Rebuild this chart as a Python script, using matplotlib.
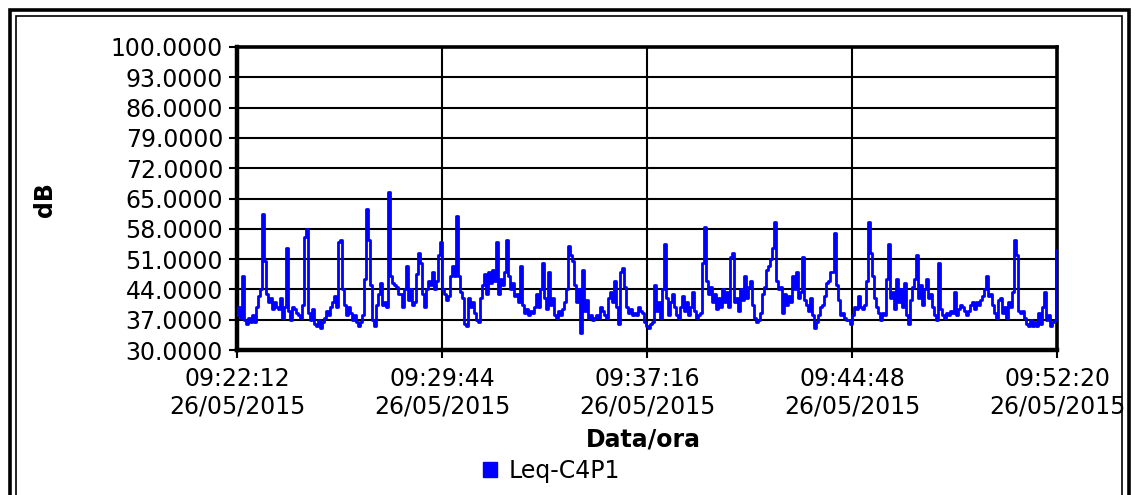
import matplotlib
matplotlib.use("Agg")
import matplotlib.pyplot as plt
import matplotlib.dates as mdates
from matplotlib.patches import Patch, Rectangle
import pandas as pd

# Leq values, left to right (dB)
leq_part1 = [38, 40, 37.5, 47, 37, 36, 37.5, 36.5, 38, 36.5, 40, 42.5, 44, 61.5, 50.5, 43,
             41, 42, 39.5, 41, 40, 39.5, 42, 37.5, 40, 53.5, 39, 37, 40, 39.5, 38.5, 38,
             37.5, 40.5, 56, 58, 38.5, 37, 39.5, 36, 35.5, 37, 35, 36.5, 37.5, 39, 38, 40,
             41, 42.5, 40, 55, 55.5, 44, 40.5, 38, 40, 38.5, 37, 38, 36.5, 35.5, 36.5, 38,
             46.5, 62.5, 55.5, 45, 37, 35.5, 40.5, 43, 45.5, 40.5, 41, 40, 66.5, 47, 45.5,
             45, 44.5, 43]
leq_part2 = [43, 40, 44, 49.5, 41.5, 44, 40.5, 41, 47.5, 52.5, 50, 43, 40, 44, 46, 45,
             48, 44, 46, 52, 55, 44, 43, 41.5, 42.5, 47, 49.5, 47, 61, 47, 43.5, 42,
             36, 35.5, 42, 40, 41, 38.5, 37, 36.5, 42, 45, 47.5, 43, 48, 45.5, 48.5, 46,
             55, 43, 46.5, 45, 48, 55.5, 47, 44, 45.5, 42.5, 43, 41, 49.5, 40.5, 38.5, 39.5,
             38, 39, 38.5, 40, 43, 40, 44, 50, 42, 39.5, 48, 40.5, 42, 38, 37.5, 39, 38]
leq_part3 = [39.5, 41, 44, 54, 52, 50.5, 45, 41, 44, 34, 48.5, 39, 41.5, 37.5, 38, 37,
             37.5, 38, 37.5, 40, 39, 38, 37.5, 42, 43.5, 41, 46, 40, 36, 48, 49, 44.5,
             40, 38.5, 39.5, 38, 38.5, 38, 40, 39, 38.5, 36.5, 35.5, 35, 36, 36.5, 45, 39,
             41, 37.5, 44, 54.5, 42, 38, 41, 43, 40, 38, 37.5, 40, 42.5, 39, 41, 38,
             40, 43.5, 39, 37.5, 38, 38.5, 50, 58.5, 46, 43, 44.5, 41, 43, 39.5, 42, 40,
             44, 41]
leq_part4 = [43.5, 40, 51.5, 52.5, 41, 42, 39, 44, 41.5, 47, 42, 44.5, 46, 40.5, 37.5, 36.5,
             37, 38.5, 43, 44.5, 48.5, 49.5, 51, 53.5, 59.5, 46, 44, 44.5, 38.5, 43, 40.5, 42.5,
             41, 47, 44, 48, 42, 43.5, 51.5, 41.5, 40.5, 39, 42, 38, 35, 36.5, 38, 40,
             40.5, 42.5, 45.5, 46, 48, 48, 57, 45, 41.5, 38, 38.5, 37.5, 37, 37, 36, 38,
             40, 39.5, 42.5, 40, 39.5, 40.5, 46, 59.5, 52.5, 47, 42, 40, 38.5, 37, 38.5, 38,
             46.5, 54.5]
leq_part5 = [42, 43.5, 39.5, 46.5, 41, 44, 40, 45.5, 38, 36, 41.5, 44.5, 46.5, 52, 42, 45,
             40.5, 44, 46.5, 42, 43, 40, 38, 37, 50, 39.5, 38, 37.5, 38.5, 38, 39, 38.5,
             43.5, 38, 39.5, 40.5, 40, 39, 38, 39, 40.5, 41, 39.5, 41, 40.5, 41.5, 42.5, 44,
             47, 42.5, 43, 40.5, 38.5, 37.5, 41.5, 42, 38.5, 40, 37.5, 41, 40, 43.5, 55.5, 52,
             39, 38.5, 39, 37.5, 36, 35.5, 37, 35.5, 36.5, 35.5, 38.5, 36, 40, 43.5, 37, 38,
             35.5, 36.5, 37, 53]
leq = leq_part1 + leq_part2 + leq_part3 + leq_part4 + leq_part5

t_start = pd.Timestamp("2015-05-26 09:22:12")
t_end = pd.Timestamp("2015-05-26 09:52:20")
tick_step = pd.Timedelta(seconds=452)
y_ticks = [30, 37, 44, 51, 58, 65, 72, 79, 86, 93, 100]

times = pd.date_range(t_start, t_end, periods=len(leq))
x_ticks = [t_start + k * tick_step for k in range(5)]

plt.rcParams["font.family"] = ["DejaVu Sans"]
fig = plt.figure(figsize=(11.4, 4.95), dpi=100)
ax = fig.add_axes([237 / 1140, 145 / 495, 820 / 1140, 303 / 495])

ax.plot(times, leq, color="#0000ff", linewidth=2.0, drawstyle="steps-mid",
        label="Leq-C4P1", zorder=3)

ax.set_xlim(t_start, t_end)
ax.set_ylim(30, 100)
ax.set_yticks(y_ticks)
ax.yaxis.set_major_formatter(plt.FormatStrFormatter("%.4f"))
ax.set_xticks(x_ticks)
ax.xaxis.set_major_formatter(mdates.DateFormatter("%H:%M:%S\n%d/%m/%Y"))
ax.tick_params(axis="both", labelsize=17, colors="black", width=1.5, length=6, pad=4)
ax.tick_params(axis="x", pad=6)

ax.grid(True, color="black", linewidth=1.5, zorder=1)
for side in ["left", "bottom"]:
    ax.spines[side].set_linewidth(3.2)
for side in ["top", "right"]:
    ax.spines[side].set_linewidth(2.6)

ax.set_ylabel("dB", fontsize=17, fontweight="bold")
ax.yaxis.set_label_coords(-0.219, 0.495)
ax.set_xlabel("Data/ora", fontsize=17, fontweight="bold")
ax.xaxis.set_label_coords(0.495, -0.297)
ax.xaxis.label.set_va("center")

handle = Patch(facecolor="#0000ff", edgecolor="#0000ff", label="Leq-C4P1")
fig.legend(handles=[handle], loc="center", bbox_to_anchor=(0.484, 0.048),
           frameon=False, fontsize=17, handlelength=0.6, handleheight=0.6,
           handletextpad=0.5)

# double border round the picture
fig.add_artist(Rectangle((9.5 / 1140, -0.1), 1119 / 1140, (485.5 / 495) + 0.1,
                         transform=fig.transFigure, fill=False,
                         edgecolor="black", linewidth=2.6))
fig.add_artist(Rectangle((16 / 1140, -0.1), 1106 / 1140, (479 / 495) + 0.1,
                         transform=fig.transFigure, fill=False,
                         edgecolor="black", linewidth=1.2))

fig.savefig("out.png", dpi=100)
